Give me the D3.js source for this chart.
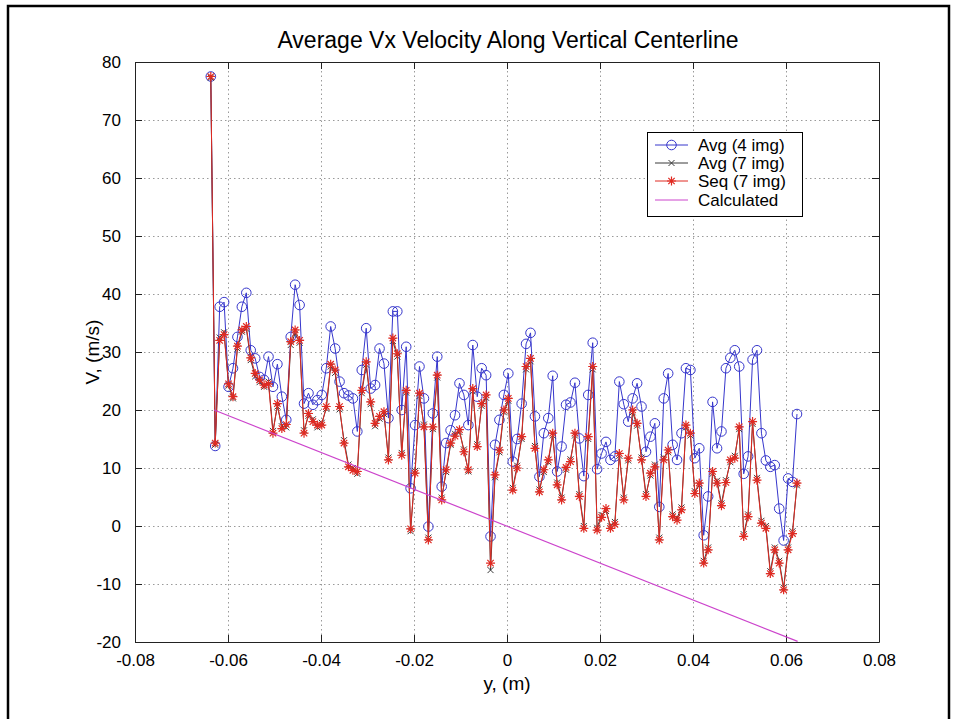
<!DOCTYPE html>
<html>
<head>
<meta charset="utf-8">
<script src="https://cdn.jsdelivr.net/npm/d3@7"></script>
<style>
  body { margin: 0; background: #fff; }
  text { font-family: "Liberation Sans", Arial, Helvetica, sans-serif; }
</style>
</head>
<body>
<svg id="chart" width="959" height="719"></svg>
<script>
// Measurement stations along the vertical centerline, y (m)
const positions = [
  -0.06370, -0.06275, -0.06179, -0.06084, -0.05988, -0.05893, -0.05797, -0.05702, -0.05606, -0.05511,
  -0.05415, -0.05320, -0.05224, -0.05129, -0.05033, -0.04938, -0.04842, -0.04747, -0.04651, -0.04556,
  -0.04460, -0.04365, -0.04269, -0.04174, -0.04078, -0.03983, -0.03887, -0.03792, -0.03696, -0.03601,
  -0.03505, -0.03410, -0.03314, -0.03219, -0.03123, -0.03028, -0.02932, -0.02837, -0.02741, -0.02646,
  -0.02550, -0.02455, -0.02359, -0.02264, -0.02168, -0.02073, -0.01977, -0.01882, -0.01786, -0.01691,
  -0.01595, -0.01500, -0.01404, -0.01309, -0.01213, -0.01118, -0.01022, -0.00927, -0.00831, -0.00736,
  -0.00640, -0.00545, -0.00449, -0.00354, -0.00258, -0.00163, -0.00067, 0.00028, 0.00124, 0.00219,
  0.00315, 0.00410, 0.00506, 0.00601, 0.00697, 0.00792, 0.00888, 0.00983, 0.01079, 0.01174,
  0.01270, 0.01365, 0.01461, 0.01556, 0.01652, 0.01747, 0.01843, 0.01938, 0.02034, 0.02129,
  0.02225, 0.02320, 0.02416, 0.02511, 0.02607, 0.02702, 0.02798, 0.02893, 0.02989, 0.03084,
  0.03180, 0.03275, 0.03371, 0.03466, 0.03562, 0.03657, 0.03753, 0.03848, 0.03944, 0.04039,
  0.04135, 0.04230, 0.04326, 0.04421, 0.04517, 0.04612, 0.04708, 0.04803, 0.04899, 0.04994,
  0.05090, 0.05185, 0.05281, 0.05376, 0.05472, 0.05567, 0.05663, 0.05758, 0.05854, 0.05949,
  0.06045, 0.06140, 0.06236
];

// Average of 4 images (m/s)
const avg4 = [
  77.5, 13.8, 37.8, 38.6, 24.0, 27.2, 32.6, 37.8, 40.2, 30.3,
  28.9, 25.7, 25.2, 29.2, 24.0, 27.9, 22.3, 18.3, 32.6, 41.6,
  38.1, 21.1, 22.9, 20.9, 21.7, 22.6, 27.2, 34.4, 30.6, 24.9,
  22.9, 22.5, 22.0, 16.3, 26.9, 34.1, 23.7, 24.3, 30.6, 28.0,
  18.6, 37.0, 37.0, 20.0, 30.9, 6.5, 17.4, 27.5, 22.0, -0.1,
  19.4, 29.2, 6.8, 14.3, 16.5, 19.1, 24.6, 22.6, 17.4, 31.2,
  22.3, 27.2, 26.0, -1.8, 14.0, 18.3, 22.6, 26.3, 11.1, 15.0,
  21.1, 31.4, 33.3, 18.9, 8.5, 16.0, 18.6, 25.9, 9.4, 13.7,
  20.9, 21.3, 24.7, 15.1, 8.6, 22.6, 31.6, 9.8, 12.5, 14.5,
  11.4, 12.0, 24.9, 21.0, 18.0, 22.0, 24.6, 20.6, 12.8, 15.4,
  17.7, 3.3, 22.0, 26.3, 14.0, 11.4, 16.0, 27.2, 26.9, 11.7,
  13.4, -1.6, 5.1, 21.4, 13.4, 16.3, 27.2, 29.0, 30.3, 27.5,
  9.0, 12.0, 28.7, 30.3, 16.0, 11.3, 10.2, 10.5, 3.0, -2.5,
  8.2, 7.6, 19.3
];

// Average of 7 images (m/s)
const avg7 = [
  77.3, 14.0, 32.5, 33.4, 24.2, 22.0, 30.6, 33.5, 34.0, 28.6,
  25.8, 24.8, 24.0, 24.9, 16.4, 20.6, 17.2, 17.0, 31.2, 33.2,
  31.6, 16.5, 19.0, 18.4, 17.0, 17.8, 20.2, 27.5, 26.4, 20.1,
  14.8, 10.6, 10.0, 9.0, 22.9, 27.8, 21.0, 17.2, 18.5, 19.3,
  11.8, 31.9, 29.2, 12.6, 23.0, -0.9, 9.5, 22.4, 17.5, -2.0,
  16.7, 25.6, 4.9, 9.3, 14.0, 15.9, 16.2, 13.2, 9.4, 23.2,
  14.1, 20.7, 22.1, -7.6, 8.4, 12.7, 19.6, 21.6, 6.6, 10.4,
  15.0, 27.0, 28.4, 13.8, 6.3, 9.3, 11.0, 15.6, 7.5, 4.9,
  9.7, 11.5, 15.6, 5.5, 0.0, 15.0, 27.0, -0.3, 1.9, 2.6,
  0.0, 0.7, 12.1, 4.9, 11.3, 19.6, 17.3, 11.8, 5.5, 8.7,
  10.6, -2.0, 11.8, 12.7, 2.0, 1.4, 3.2, 17.0, 15.6, 6.0,
  7.0, -6.0, -3.7, 9.0, 7.8, 3.9, 7.9, 11.0, 12.1, 16.7,
  -1.4, 2.0, 17.6, 8.3, 0.9, 0.0, -7.8, -3.7, -6.0, -10.6,
  -3.7, -0.9, 7.0
];

// Sequential processing of 7 images (m/s)
const seq7 = [
  77.5, 14.3, 32.0, 33.0, 24.5, 22.3, 31.0, 33.8, 34.4, 29.0,
  26.3, 25.2, 24.3, 24.5, 16.0, 21.1, 16.8, 17.5, 31.8, 33.8,
  32.0, 16.0, 19.4, 18.0, 17.4, 17.4, 20.6, 27.9, 26.9, 20.6,
  14.3, 10.2, 9.6, 9.4, 23.4, 28.3, 21.4, 17.7, 18.9, 19.7,
  11.4, 32.4, 29.7, 12.2, 23.4, -0.5, 9.1, 22.9, 17.1, -2.4,
  17.1, 26.0, 4.5, 9.7, 14.3, 15.5, 16.6, 12.8, 9.7, 23.7,
  13.7, 21.1, 22.6, -6.4, 8.8, 13.1, 20.0, 22.0, 6.2, 10.0,
  15.4, 27.5, 28.9, 13.4, 5.9, 9.7, 11.4, 16.0, 7.1, 4.5,
  10.1, 11.1, 16.0, 5.1, -0.4, 15.4, 27.5, -0.7, 1.5, 3.0,
  -0.4, 0.3, 12.5, 4.5, 11.7, 20.0, 17.7, 11.4, 5.1, 9.1,
  10.2, -2.4, 11.4, 13.1, 1.6, 1.0, 2.8, 17.4, 16.0, 5.6,
  7.4, -6.4, -4.1, 9.4, 7.4, 3.5, 7.5, 11.4, 11.7, 17.1,
  -1.8, 1.6, 18.0, 7.9, 0.5, -0.4, -8.2, -4.1, -6.4, -11.0,
  -4.1, -1.3, 7.4
];

// Calculated profile (straight line)
const calcPositions = [-0.0630, 0.0625];
const calcValues = [20.0, -19.9];

const xTicks = [-0.08, -0.06, -0.04, -0.02, 0, 0.02, 0.04, 0.06, 0.08];
const xTickLabels = ["-0.08", "-0.06", "-0.04", "-0.02", "0", "0.02", "0.04", "0.06", "0.08"];
const yTicks = [-20, -10, 0, 10, 20, 30, 40, 50, 60, 70, 80];
const yTickLabels = ["-20", "-10", "0", "10", "20", "30", "40", "50", "60", "70", "80"];
const legendLabels = ["Avg (4 img)", "Avg (7 img)", "Seq (7 img)", "Calculated"];

const titleText = "Average Vx Velocity Along Vertical Centerline";
const xLabelText = "y, (m)";
const yLabelText = "V, (m/s)";

// ---- drawing ----
const svg = d3.select("#chart");
const W = 959, H = 719;
const plot = { left: 135, right: 879, top: 62, bottom: 642 };

const colors = {
  avg4: "#3636cc",
  avg7: "#3a3a3a",
  seq7: "#e02a22",
  calc: "#cc44cc",
  grid: "#9a9a9a",
  axis: "#222"
};

svg.append("rect").attr("width", W).attr("height", H).attr("fill", "#fff");

// outer frame
svg.append("rect")
  .attr("x", 8).attr("y", 6).attr("width", 941).attr("height", 740)
  .attr("fill", "none").attr("stroke", "#000").attr("stroke-width", 2.5);

const x = d3.scaleLinear().domain([-0.08, 0.08]).range([plot.left, plot.right]);
const y = d3.scaleLinear().domain([-20, 80]).range([plot.bottom, plot.top]);

// grid
const grid = svg.append("g").attr("stroke", colors.grid).attr("stroke-width", 1)
  .attr("stroke-dasharray", "1.5,3");
grid.selectAll("line.gx").data(xTicks.slice(1, -1)).join("line")
  .attr("x1", d => Math.round(x(d)) + 0.5).attr("x2", d => Math.round(x(d)) + 0.5)
  .attr("y1", plot.top).attr("y2", plot.bottom);
grid.selectAll("line.gy").data(yTicks.slice(1, -1)).join("line")
  .attr("y1", d => Math.round(y(d)) + 0.5).attr("y2", d => Math.round(y(d)) + 0.5)
  .attr("x1", plot.left).attr("x2", plot.right);

// axes with inward ticks on all four sides
const tickLen = 7;
const fmtX = (d) => xTickLabels[xTicks.indexOf(d)];
const fmtY = (d) => yTickLabels[yTicks.indexOf(d)];

const axB = svg.append("g").attr("transform", `translate(0,${plot.bottom})`)
  .call(d3.axisBottom(x).tickValues(xTicks).tickFormat(fmtX).tickSizeInner(-tickLen).tickSizeOuter(0).tickPadding(tickLen + 5));
const axT = svg.append("g").attr("transform", `translate(0,${plot.top})`)
  .call(d3.axisTop(x).tickValues(xTicks).tickFormat("").tickSizeInner(-tickLen).tickSizeOuter(0));
const axL = svg.append("g").attr("transform", `translate(${plot.left},0)`)
  .call(d3.axisLeft(y).tickValues(yTicks).tickFormat(fmtY).tickSizeInner(-tickLen).tickSizeOuter(0).tickPadding(tickLen + 7));
const axR = svg.append("g").attr("transform", `translate(${plot.right},0)`)
  .call(d3.axisRight(y).tickValues(yTicks).tickFormat("").tickSizeInner(-tickLen).tickSizeOuter(0));

[axB, axT, axL, axR].forEach(g => {
  g.select(".domain").attr("stroke", colors.axis).attr("stroke-width", 1);
  g.selectAll(".tick line").attr("stroke", colors.axis);
  g.selectAll("text").attr("fill", "#000").style("font-size", "17px")
    .style("font-family", '"Liberation Sans", Arial, sans-serif');
});

// series lines and markers
const lineGen = d3.line().x(d => x(d[0])).y(d => y(d[1]));
const zip = (xs, vs) => xs.map((p, i) => [p, vs[i]]);

const sAvg4 = zip(positions, avg4);
const sAvg7 = zip(positions, avg7);
const sSeq7 = zip(positions, seq7);
const sCalc = zip(calcPositions, calcValues);

const circleMarker = (g, cx, cy, c) =>
  g.append("circle").attr("cx", cx).attr("cy", cy).attr("r", 4.8)
    .attr("fill", "none").attr("stroke", c).attr("stroke-width", 1);
const xMarker = (g, cx, cy, c) => {
  const s = 3;
  g.append("path").attr("d", `M${cx - s},${cy - s}L${cx + s},${cy + s}M${cx - s},${cy + s}L${cx + s},${cy - s}`)
    .attr("stroke", c).attr("stroke-width", 1).attr("fill", "none");
};
const starMarker = (g, cx, cy, c) => {
  const s = 4.5, d = 3.2;
  g.append("path").attr("d",
    `M${cx - s},${cy}L${cx + s},${cy}M${cx},${cy - s}L${cx},${cy + s}` +
    `M${cx - d},${cy - d}L${cx + d},${cy + d}M${cx - d},${cy + d}L${cx + d},${cy - d}`)
    .attr("stroke", c).attr("stroke-width", 1.2).attr("fill", "none");
};

const series = svg.append("g");
function drawSeries(data, color, marker) {
  const g = series.append("g");
  g.append("path").datum(data).attr("d", lineGen)
    .attr("fill", "none").attr("stroke", color).attr("stroke-width", 1);
  data.forEach(d => marker(g, x(d[0]), y(d[1]), color));
}
drawSeries(sAvg4, colors.avg4, circleMarker);
drawSeries(sAvg7, colors.avg7, xMarker);
drawSeries(sSeq7, colors.seq7, starMarker);
series.append("path").datum(sCalc).attr("d", lineGen)
  .attr("fill", "none").attr("stroke", colors.calc).attr("stroke-width", 1.2);

// title and axis labels
svg.append("text").attr("x", (plot.left + plot.right) / 2 + 1).attr("y", 48)
  .attr("text-anchor", "middle").style("font-size", "23px").text(titleText);
svg.append("text").attr("x", (plot.left + plot.right) / 2).attr("y", 690)
  .attr("text-anchor", "middle").style("font-size", "19px").text(xLabelText);
svg.append("text").attr("transform", `translate(99,${(plot.top + plot.bottom) / 2}) rotate(-90)`)
  .attr("text-anchor", "middle").style("font-size", "19px").text(yLabelText);

// legend
const leg = svg.append("g");
leg.append("rect").attr("x", 647.5).attr("y", 132.5).attr("width", 155).attr("height", 84)
  .attr("fill", "#fff").attr("stroke", "#000").attr("stroke-width", 1);
const legRows = [145, 163, 181, 200];
const legColors = [colors.avg4, colors.avg7, colors.seq7, colors.calc];
const legMarkers = [circleMarker, xMarker, starMarker, null];
legendLabels.forEach((lbl, i) => {
  const cy = legRows[i];
  leg.append("line").attr("x1", 655).attr("x2", 688).attr("y1", cy).attr("y2", cy)
    .attr("stroke", legColors[i]).attr("stroke-width", 1);
  if (legMarkers[i]) legMarkers[i](leg, 671.5, cy, legColors[i]);
  leg.append("text").attr("x", 698).attr("y", cy + 6).style("font-size", "17px").text(lbl);
});
</script>
</body>
</html>
